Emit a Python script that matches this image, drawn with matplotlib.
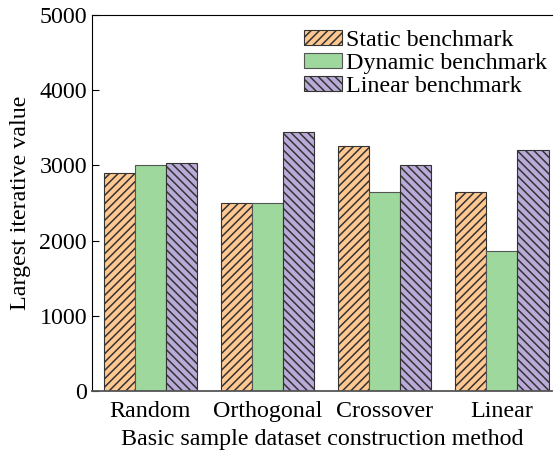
import numpy as np
import matplotlib.pyplot as plt

plt.rcParams['font.family'] = 'Liberation Serif'
plt.rcParams['hatch.linewidth'] = 1.1
plt.rcParams['hatch.color'] = '#1a1a1a'

# valores
metodos = ['Random', 'Orthogonal', 'Crossover', 'Linear']
estatico = [2900, 2500, 3260, 2650]
dinamico = [3000, 2500, 2650, 1860]
linear = [3030, 3450, 3000, 3200]

x = np.arange(len(metodos))
w = 0.267
fs = 17.3

fig = plt.figure(figsize=(5.57, 4.55), dpi=100)
ax = fig.add_axes([0.165, 0.141, 0.826, 0.826])

ax.bar(x - w, estatico, w, color='#FFC891', edgecolor='#333333', linewidth=0.8,
       hatch='////', label='Static benchmark')
ax.bar(x, dinamico, w, color='#9ED89C', edgecolor='#555555', linewidth=0.8,
       label='Dynamic benchmark')
ax.bar(x + w, linear, w, color='#B9AAD8', edgecolor='#333333', linewidth=0.8,
       hatch='\\\\\\\\', label='Linear benchmark')

ax.set_xlim(-0.5, 3.43)
ax.set_ylim(0, 5000)
ax.set_xticks(x)
ax.set_xticklabels(metodos)
ax.set_yticks([0, 1000, 2000, 3000, 4000, 5000])
ax.tick_params(axis='y', direction='in', length=5, labelsize=fs)
ax.tick_params(axis='x', length=0, labelsize=fs, pad=7)
ax.spines['right'].set_visible(False)
ax.spines['bottom'].set_color('#555555')
ax.spines['bottom'].set_linewidth(1.3)

ax.set_xlabel('Basic sample dataset construction method', fontsize=fs, labelpad=5)
ax.set_ylabel('Largest iterative value', fontsize=fs, labelpad=6)

ax.legend(loc='upper left', bbox_to_anchor=(0.42, 1.012), frameon=False,
          fontsize=fs, handlelength=1.55, handleheight=0.6, labelspacing=0.08,
          handletextpad=0.2, borderpad=0.3)

plt.savefig('out.png', dpi=100)
